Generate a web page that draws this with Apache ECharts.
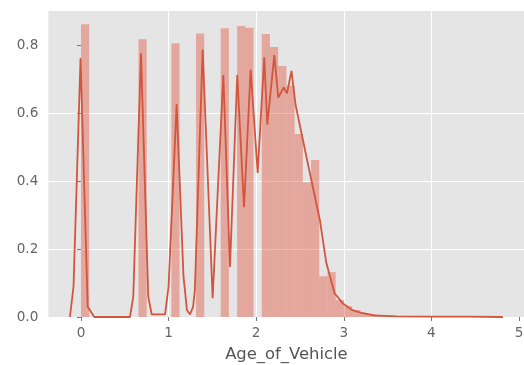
<!DOCTYPE html>
<html><head><meta charset="utf-8">
<script src="https://cdn.jsdelivr.net/npm/echarts@6/dist/echarts.min.js"></script>
<style>html,body{margin:0;padding:0;background:#fff}#c{width:524px;height:365px}</style>
</head><body><div id="c"></div>
<script>
// Histogram (density) of Age_of_Vehicle, 50 equal bins starting at 0
const binStart = 0;
const binWidth = 0.0938;
const binHeights = [
  0.861, 0, 0, 0, 0, 0, 0, 0.817, 0, 0,
  0, 0.805, 0, 0, 0.834, 0, 0, 0.849, 0, 0.856,
  0.851, 0, 0.832, 0.794, 0.738, 0.680, 0.538, 0.396, 0.462, 0.120,
  0.132, 0.050, 0.032, 0.020, 0.012, 0.008, 0.005, 0.004, 0.002, 0.002,
  0.002, 0.001, 0.001, 0.001, 0.001, 0.001, 0.001, 0.001, 0.001, 0.001
];
// KDE curve vertices
const kdeX = [-0.126, -0.085, -0.005, 0.077, 0.152, 0.559, 0.597, 0.685, 0.768, 0.807,
  0.960, 1.000, 1.092, 1.170, 1.210, 1.244, 1.280, 1.300, 1.389, 1.503,
  1.625, 1.701, 1.784, 1.861, 1.937, 2.017, 2.092, 2.127, 2.207, 2.252,
  2.314, 2.352, 2.403, 2.449, 2.595, 2.728, 2.800, 2.895, 2.990, 3.100,
  3.200, 3.350, 3.600, 4.000, 4.400, 4.816];
const kdeY = [0.000, 0.090, 0.762, 0.030, 0.000, 0.000, 0.060, 0.776, 0.060, 0.008,
  0.008, 0.090, 0.626, 0.120, 0.020, 0.008, 0.030, 0.080, 0.787, 0.055,
  0.712, 0.147, 0.712, 0.323, 0.727, 0.424, 0.764, 0.566, 0.770, 0.645,
  0.675, 0.658, 0.724, 0.625, 0.445, 0.284, 0.160, 0.070, 0.040, 0.020,
  0.012, 0.005, 0.002, 0.001, 0.001, 0.000];
const xTicks = [0, 1, 2, 3, 4, 5];
const yTicks = [0.0, 0.2, 0.4, 0.6, 0.8];
const xName = 'Age_of_Vehicle';

const histData = binHeights.map((h, k) => [binStart + k * binWidth, binStart + (k + 1) * binWidth, h]).filter(d => d[2] > 0);
const kdeData = kdeX.map((x, i) => [x, kdeY[i]]);

const chart = echarts.init(document.getElementById('c'), null, {renderer: 'canvas'});
const font = 'DejaVu Sans';
chart.setOption({
  animation: false,
  grid: {left: 48.3, right: -0.5, top: 11, bottom: 48, show: true, backgroundColor: '#E5E5E5', borderWidth: 0,
    containLabel: false, outerBoundsMode: 'none'},
  xAxis: {
    type: 'value', min: -0.373, max: 5.063, splitNumber: 5,
    name: xName, nameLocation: 'middle', nameGap: 30,
    nameTextStyle: {color: '#555555', fontSize: 16.4, fontFamily: font},
    axisLine: {show: false},
    axisTick: {show: true, length: 4, customValues: xTicks, lineStyle: {color: '#777', width: 1}},
    axisLabel: {margin: 9, color: '#666', fontSize: 13.6, fontFamily: font, customValues: xTicks,
      formatter: v => String(Math.round(v))},
    splitLine: {show: true, showMinLine: false, showMaxLine: false, lineStyle: {color: '#ffffff', width: 1.2}}
  },
  yAxis: {
    type: 'value', min: 0, max: 0.9, interval: 0.2,
    axisLine: {show: false},
    axisTick: {show: true, length: 4, customValues: yTicks, lineStyle: {color: '#777', width: 1}},
    axisLabel: {margin: 10, color: '#666', fontSize: 13.6, fontFamily: font, customValues: yTicks,
      formatter: v => v.toFixed(1)},
    splitLine: {show: true, showMinLine: true, showMaxLine: false, lineStyle: {color: '#ffffff', width: 1.2}}
  },
  series: [
    {
      type: 'custom', data: histData, encode: {x: [0, 1], y: 2},
      renderItem: (params, api) => {
        const p0 = api.coord([api.value(0), api.value(2)]);
        const p1 = api.coord([api.value(1), 0]);
        return {type: 'rect', shape: {x: p0[0], y: p0[1], width: p1[0] - p0[0], height: p1[1] - p0[1]},
          style: {fill: 'rgba(226,74,51,0.4)'}};
      }
    },
    {
      type: 'line', data: kdeData, showSymbol: false, smooth: false,
      lineStyle: {color: '#d2553d', width: 1.8}
    }
  ]
});
</script></body></html>
